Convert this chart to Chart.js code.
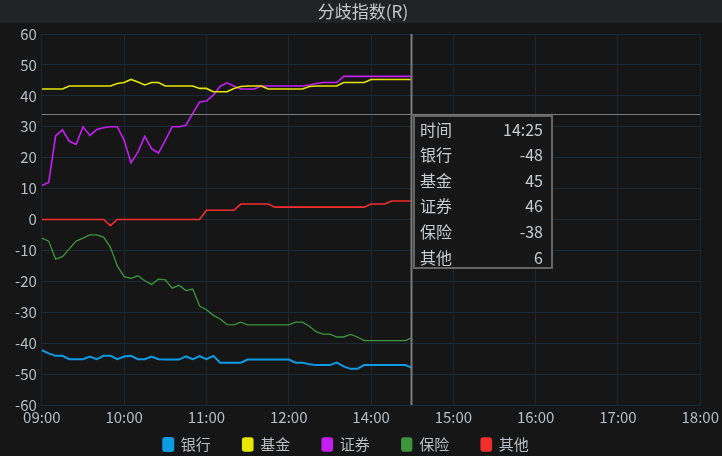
<!DOCTYPE html>
<html><head><meta charset="utf-8">
<script src="https://cdn.jsdelivr.net/npm/chart.js@4"></script>
<style>html,body{margin:0;padding:0;background:#161616;overflow:hidden}canvas{display:block}</style>
</head><body>
<canvas id="c" width="722" height="456"></canvas>
<script>
// ---- data (5-minute samples starting 09:00) ----
const tickLabels = ['09:00','10:00','11:00','12:00','14:00','15:00','16:00','17:00','18:00'];
const seriesNames = ['银行','基金','证券','保险','其他'];
const bank = [-42.3,-43.3,-44.1,-44.1,-45.2,-45.2,-45.2,-44.3,-45.2,-44.1,-44.1,-45.2,-44.3,-44.1,-45.2,-45.2,-44.3,-45.2,-45.3,-45.3,-45.3,-44.3,-45.2,-44.2,-45.2,-44.1,-46.3,-46.3,-46.3,-46.3,-45.3,-45.3,-45.3,-45.3,-45.3,-45.3,-45.3,-46.3,-46.3,-46.8,-47.1,-47.1,-47.1,-46.3,-47.5,-48.3,-48.3,-47.1,-47.1,-47.1,-47.1,-47.1,-47.1,-47.1,-48];
const fund = [42.2,42.2,42.2,42.2,43.2,43.2,43.2,43.2,43.2,43.2,43.2,44,44.3,45.3,44.5,43.5,44.3,44.3,43.2,43.2,43.2,43.2,43.2,42.4,42.4,41.3,41.3,41.3,42.4,43,43.2,43.2,43.2,42.2,42.2,42.2,42.2,42.2,42.2,43,43.2,43.2,43.2,43.2,44.3,44.3,44.3,44.3,45.3,45.3,45.3,45.3,45.3,45.3,45.3];
const securities = [11,12,27,29,25.3,24.3,30,27.2,29.1,29.7,30,30,25.6,18.3,21.8,26.9,22.9,21.5,25.6,30,30,30.5,34.3,38,38.3,40.2,43.1,44.2,43.2,42.2,42.2,42.2,43.2,43.2,43.2,43.2,43.2,43.2,43.2,43.5,44,44.3,44.3,44.3,46.3,46.3,46.3,46.3,46.3,46.3,46.3,46.3,46.3,46.3,46.3];
const insurance = [-6,-7,-12.8,-12,-9.5,-7,-6,-5,-5,-5.7,-9,-15,-18.5,-19,-18.2,-19.8,-21,-19.3,-19.5,-22.2,-21.3,-23,-22.5,-28,-29.2,-31,-32.2,-34,-34.1,-33.2,-34.1,-34.1,-34.1,-34.1,-34.1,-34.1,-34.1,-33.2,-33.2,-34.5,-36.3,-37.1,-37.1,-38,-38,-37.2,-38,-39.2,-39.2,-39.2,-39.2,-39.2,-39.2,-39.2,-38.2];
const other = [0,0,0,0,0,0,0,0,0,0,-2,0,0,0,0,0,0,0,0,0,0,0,0,0,3,3,3,3,3,5,5,5,5,5,4,4,4,4,4,4,4,4,4,4,4,4,4,4,5,5,5,6,6,6,6];
const pointsPerHour = 12;
const cursorTime = '14:25';
const cursorIndex = 54;
const cursorValue = 34;

// ---- styles ----
const FONT = "'Noto Sans CJK SC','Noto Sans',sans-serif";
const colors = ['#0e9be6','#e6e600','#c51ef2','#3d963d','#f22e2e'];
const widths = [2, 1.6, 1.6, 1.3, 1.6];
const gridColor = '#1b2835';
const textColor = '#b8bfc6';

const allSeries = [bank, fund, securities, insurance, other];

const bgPlugin = {
  id: 'bg',
  beforeDraw(chart) {
    const ctx = chart.ctx;
    ctx.save();
    ctx.fillStyle = '#161616';
    ctx.fillRect(0, 0, chart.width, chart.height);
    ctx.fillStyle = '#222326';
    ctx.fillRect(0, 0, chart.width, 23);
    ctx.restore();
  }
};

// keep wide horizontal spacing between legend items while placing the row close to the axis
const legendShift = {
  id: 'legendShift',
  afterLayout(chart) {
    const lg = chart.legend;
    if (!lg) return;
    const rowTop = 437;
    lg.top = rowTop - lg.options.labels.padding;
    lg.bottom = chart.height;
    lg.left -= 17; lg.right -= 17;
  }
};

const crosshair = {
  id: 'crosshair',
  afterDraw(chart) {
    const {ctx, chartArea: a, scales: {x, y}} = chart;
    const cx = Math.round(x.getPixelForValue(cursorIndex)) - 0.5;
    const cy = Math.round(y.getPixelForValue(cursorValue)) + 0.5;
    ctx.save();
    ctx.strokeStyle = '#7a7a7a';
    ctx.lineWidth = 1;
    ctx.beginPath(); ctx.moveTo(a.left, cy); ctx.lineTo(a.right, cy); ctx.stroke();
    ctx.lineWidth = 2;
    ctx.beginPath(); ctx.moveTo(cx, a.top); ctx.lineTo(cx, a.bottom); ctx.stroke();
    // tooltip box
    const bx = cx + 2.5, by = cy + 1.5, bw = 138, bh = 152;
    ctx.fillStyle = '#171717';
    ctx.fillRect(bx, by, bw, bh);
    ctx.strokeStyle = '#646464';
    ctx.lineWidth = 2;
    ctx.strokeRect(bx, by, bw, bh);
    ctx.font = '16px ' + FONT;
    ctx.fillStyle = '#c8cbcf';
    ctx.textBaseline = 'middle';
    const rows = [['时间', cursorTime]].concat(seriesNames.map((n, i) => [n, String(Math.round(allSeries[i][cursorIndex]))]));
    rows.forEach((r, i) => {
      const ty = by + 13.5 + i * 25.6;
      ctx.textAlign = 'left';
      ctx.fillText(r[0], bx + 6, ty);
      ctx.textAlign = 'right';
      ctx.fillText(r[1], bx + bw - 9, ty);
    });
    ctx.restore();
  }
};

new Chart(document.getElementById('c'), {
  type: 'line',
  data: {
    datasets: allSeries.map((s, i) => ({
      label: seriesNames[i],
      data: s.map((v, k) => ({x: k, y: v})),
      borderColor: colors[i],
      backgroundColor: colors[i],
      borderWidth: widths[i],
      pointRadius: 0,
      tension: 0,
      fill: false
    }))
  },
  options: {
    responsive: false,
    animation: false,
    devicePixelRatio: 1,
    events: [],
    layout: {padding: {left: 10, right: 6, top: 0, bottom: 0}},
    plugins: {
      title: {
        display: true, text: '分歧指数(R)', color: '#c6c8ca',
        font: {family: FONT, size: 17, weight: 'normal'},
        padding: {top: 1, bottom: 12.6}
      },
      legend: {
        position: 'bottom',
        maxHeight: 27,
        labels: {
          color: textColor, font: {family: FONT, size: 15},
          boxWidth: 10, boxHeight: 13, padding: 32,
          useBorderRadius: true, borderRadius: 2
        }
      },
      tooltip: {enabled: false}
    },
    scales: {
      x: {
        type: 'linear', min: 0, max: (tickLabels.length - 1) * pointsPerHour,
        ticks: {
          stepSize: pointsPerHour, autoSkip: false, maxRotation: 0,
          color: textColor, font: {family: FONT, size: 15}, padding: 3,
          callback: v => tickLabels[Math.round(v / pointsPerHour)]
        },
        grid: {color: gridColor, drawTicks: false},
        border: {color: gridColor}
      },
      y: {
        min: -60, max: 60,
        ticks: {stepSize: 10, color: textColor, font: {family: FONT, size: 15}, padding: 5},
        grid: {color: gridColor, drawTicks: false},
        border: {color: gridColor}
      }
    }
  },
  plugins: [bgPlugin, legendShift, crosshair]
});
</script>
</body></html>
